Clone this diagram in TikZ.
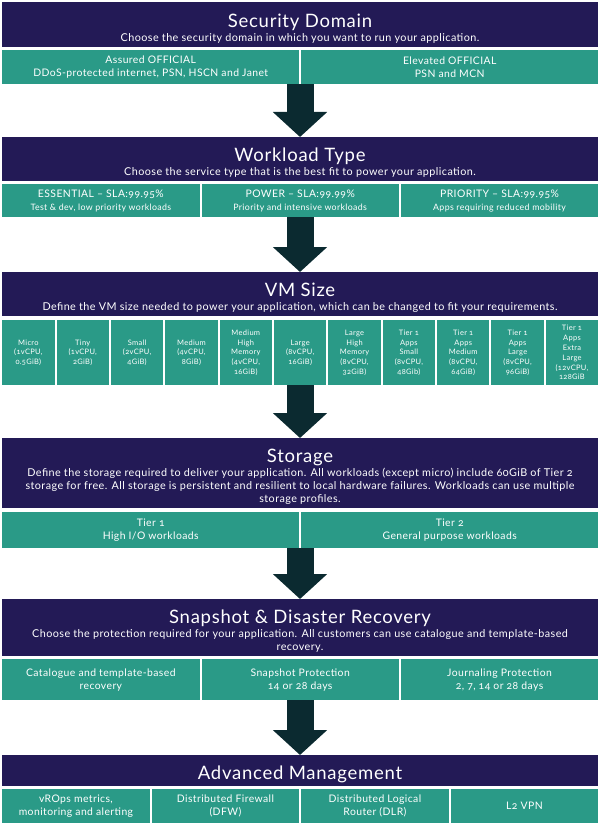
\documentclass[tikz,border=0pt]{standalone}
\usepackage{fontspec}
\setmainfont{Lato}[Numbers=OldStyle, LetterSpace=4]
\usetikzlibrary{arrows.meta}
\definecolor{headblue}{HTML}{231A56}
\definecolor{cellteal}{HTML}{2A9A87}
\definecolor{arrowdark}{HTML}{0B2A30}
\newcommand{\headtitle}[1]{{\fontsize{18.5}{22}\selectfont\rule{0pt}{21pt}#1}}
\newcommand{\subline}{\fontsize{8.8}{11}\selectfont}
\tikzset{
  head/.style={fill=headblue, text=white, inner sep=0pt, minimum width=596pt, align=center, anchor=north, font=\fontsize{10.8}{13}\selectfont},
  cell/.style={fill=cellteal, text=white, inner sep=0pt, align=center, anchor=north west, font=\fontsize{10.4}{13}\selectfont},
  vmcell/.style={cell, minimum width=52.36pt, minimum height=65pt, font=\fontsize{7.5}{9.8}\selectfont},
  flow/.style={arrowdark, line width=27pt, -{Triangle[width=53pt,length=25pt]}}
}
\begin{document}
\begin{tikzpicture}[x=1pt, y=-1pt]
  \useasboundingbox (0,0) rectangle (602,826);

  \node[head, minimum height=45pt] (secdom) at (300,2) {\headtitle{Security Domain}\\[1pt] Choose the security domain in which you want to run your application.};
  \foreach \txt [count=\i from 0] in {{Assured OFFICIAL\\DDoS-protected internet, PSN, HSCN and Janet}, {Elevated OFFICIAL\\PSN and MCN}}
    \node[cell, minimum width=297pt, minimum height=34pt] (sd\i) at ({2+\i*299},50) {\txt};

  \node[head, minimum height=44pt] (workload) at (300,137) {\headtitle{Workload Type}\\[1pt] Choose the service type that is the best fit to power your application.};
  \foreach \txt [count=\i from 0] in {{ESSENTIAL – SLA:99.95\%\\\subline Test \& dev, low priority workloads}, {POWER – SLA:99.99\%\\\subline Priority and intensive workloads}, {PRIORITY – SLA:99.95\%\\\subline Apps requiring reduced mobility}}
    \node[cell, minimum width=197.33pt, minimum height=33pt] (wl\i) at ({2+\i*199.33},184) {\txt};
  \draw[flow] (workload.north |- sd0.south) -- (workload.north);

  \node[head, minimum height=44pt] (vmsize) at (300,272) {\headtitle{VM Size}\\[1pt] Define the VM size needed to power your application, which can be changed to fit your requirements.};
  \foreach \txt [count=\i from 0] in {{Micro\\(1vCPU,\\0.5GiB)}, {Tiny\\(1vCPU,\\2GiB)}, {Small\\(2vCPU,\\4GiB)}, {Medium\\(4vCPU,\\8GiB)}, {Medium\\High\\Memory\\(4vCPU,\\16GiB)}, {Large\\(8vCPU,\\16GiB)}, {Large\\High\\Memory\\(8vCPU,\\32GiB)}, {Tier 1\\Apps\\Small\\(8vCPU,\\48Gib)}, {Tier 1\\Apps\\Medium\\(8vCPU,\\64GiB)}, {Tier 1\\Apps\\Large\\(8vCPU,\\96GiB)}, {Tier 1\\Apps\\Extra\\Large\\(12vCPU,\\128GiB}}
    \node[vmcell] (vm\i) at ({2+\i*54.36},320) {\txt};
  \draw[flow] (vmsize.north |- wl0.south) -- (vmsize.north);

  \node[head, minimum height=70pt] (storage) at (300,438) {\headtitle{Storage}\\[1pt] Define the storage required to deliver your application. All workloads (except micro) include 60GiB of Tier 2\\storage for free. All storage is persistent and resilient to local hardware failures. Workloads can use multiple\\storage profiles.};
  \foreach \txt [count=\i from 0] in {{Tier 1\\High I/O workloads}, {Tier 2\\General purpose workloads}}
    \node[cell, minimum width=297pt, minimum height=36pt] (st\i) at ({2+\i*299},512) {\txt};
  \draw[flow] (storage.north |- vm0.south) -- (storage.north);

  \node[head, minimum height=57pt] (snapshot) at (300,599) {\headtitle{Snapshot \& Disaster Recovery}\\[1pt] Choose the protection required for your application. All customers can use catalogue and template-based\\recovery.};
  \foreach \txt [count=\i from 0] in {{Catalogue and template-based\\recovery}, {Snapshot Protection\\14 or 28 days}, {Journaling Protection\\2, 7, 14 or 28 days}}
    \node[cell, minimum width=197.33pt, minimum height=41pt] (sn\i) at ({2+\i*199.33},659) {\txt};
  \draw[flow] (snapshot.north |- st0.south) -- (snapshot.north);

  \node[head, minimum height=31pt] (advanced) at (300,755) {\headtitle{Advanced Management}};
  \foreach \txt [count=\i from 0] in {{vROps metrics,\\monitoring and alerting}, {Distributed Firewall\\(DFW)}, {Distributed Logical\\Router (DLR)}, {L2 VPN}}
    \node[cell, minimum width=147.5pt, minimum height=34pt] (am\i) at ({2+\i*149.5},789) {\txt};
  \draw[flow] (advanced.north |- sn0.south) -- (advanced.north);
\end{tikzpicture}
\end{document}
